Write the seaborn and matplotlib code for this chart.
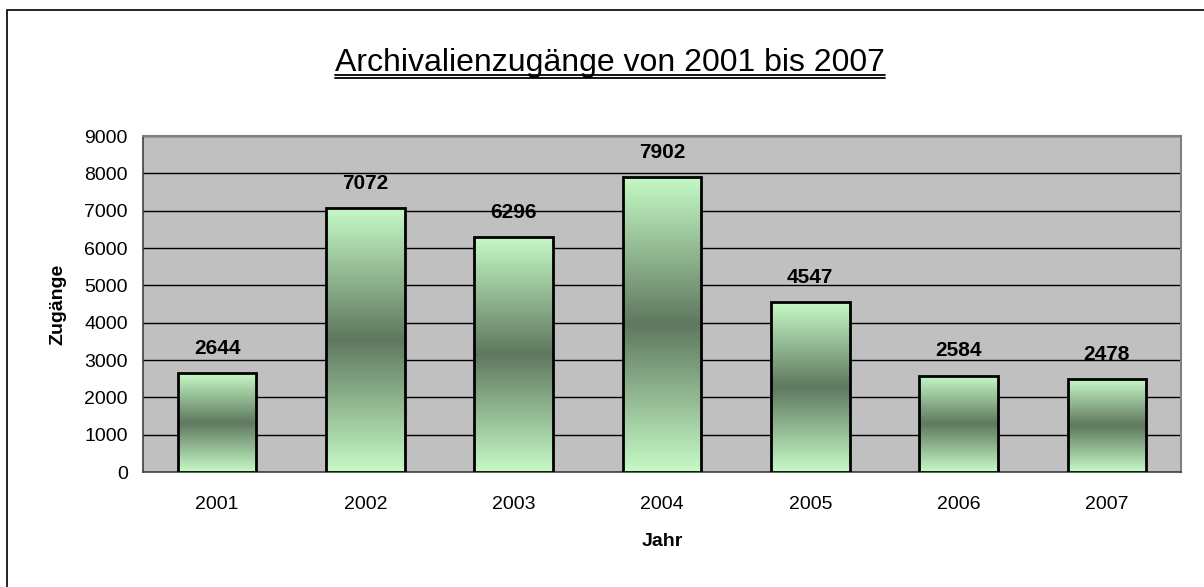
import numpy as np
import pandas as pd
import seaborn as sns
import matplotlib.pyplot as plt
from matplotlib.colors import LinearSegmentedColormap
from matplotlib.patches import Rectangle
from matplotlib.lines import Line2D

# data
years = ["2001", "2002", "2003", "2004", "2005", "2006", "2007"]
zugaenge = [2644, 7072, 6296, 7902, 4547, 2584, 2478]

df = pd.DataFrame({"Jahr": years, "Zugänge": zugaenge})

sns.set_style("white")
plt.rcParams["font.family"] = ["Liberation Sans", "DejaVu Sans"]
plt.rcParams["text.color"] = "black"
plt.rcParams["axes.labelcolor"] = "black"
plt.rcParams["xtick.labelcolor"] = "black"
plt.rcParams["ytick.labelcolor"] = "black"

fig = plt.figure(figsize=(12.04, 5.87), dpi=100)
ax = fig.add_axes([0.1188, 0.1959, 0.8621, 0.5724])
ax.set_facecolor("#c0c0c0")

sns.barplot(data=df, x="Jahr", y="Zugänge", ax=ax, width=0.53,
            color="#c6f7c6", edgecolor="black", linewidth=2.0, zorder=3)

# gradient fill: light at top/bottom, dark in the middle
light = (198 / 255, 250 / 255, 198 / 255)
dark = (95 / 255, 120 / 255, 95 / 255)
cmap = LinearSegmentedColormap.from_list("grn", [light, dark, light])
grad = np.linspace(0, 1, 256).reshape(-1, 1)
for p in ax.patches:
    x0, y0 = p.get_x(), p.get_y()
    w, h = p.get_width(), p.get_height()
    im = ax.imshow(grad, cmap=cmap, aspect="auto", extent=(x0, x0 + w, y0, y0 + h),
                   origin="lower", zorder=3, interpolation="bicubic")
    im.set_clip_path(p)
    p.set_facecolor("none")
    p.set_zorder(4)

ax.set_xlim(-0.5, len(years) - 0.5)
ax.set_ylim(0, 9000)
ax.set_yticks(range(0, 9001, 1000))
ax.yaxis.grid(True, color="black", linewidth=1.0, zorder=0)
ax.set_axisbelow(True)

# labels on top of the bars
for p, v in zip(ax.patches, zugaenge):
    ax.annotate(str(v), (p.get_x() + p.get_width() / 2, p.get_height()),
                xytext=(0, 11), textcoords="offset points", ha="center", va="bottom",
                fontsize=15, fontweight="bold", color="black", zorder=5)

ax.set_xticks(range(len(years)))
ax.set_xticklabels(years)
ax.set_xticks(np.arange(-0.5, len(years)), minor=True)
ax.tick_params(axis="x", which="major", length=0, pad=17, labelsize=14)
ax.tick_params(axis="x", which="minor", length=5, width=1, color="#404040", direction="out")
ax.tick_params(axis="y", length=5, width=1, color="#404040", direction="out", pad=6, labelsize=14)

for s in ["top", "right"]:
    ax.spines[s].set_color("#808080")
    ax.spines[s].set_linewidth(1.5)
for s in ["left", "bottom"]:
    ax.spines[s].set_color("#404040")
    ax.spines[s].set_linewidth(1.2)

ax.set_xlabel("Jahr", fontsize=14, fontweight="bold", labelpad=15)
ax.set_ylabel("Zugänge", fontsize=14, fontweight="bold", labelpad=13)

# underlined title
t = fig.text(0.5066, 0.892, "Archivalienzugänge von 2001 bis 2007", ha="center", va="center",
             fontsize=23)
fig.canvas.draw()
bb = t.get_window_extent().transformed(fig.transFigure.inverted())
for dy in (0.006, 0.0105):
    fig.add_artist(Line2D([bb.x0, bb.x1], [bb.y0 - dy + 0.012, bb.y0 - dy + 0.012],
                          transform=fig.transFigure, color="black", linewidth=1.3))

# outer border
fig.add_artist(Rectangle((7 / 1204, -0.1), 1.2, 1 - 10 / 587 + 0.1, transform=fig.transFigure,
                         fill=False, edgecolor="black", linewidth=1.2))

fig.savefig("out.png", dpi=100)
